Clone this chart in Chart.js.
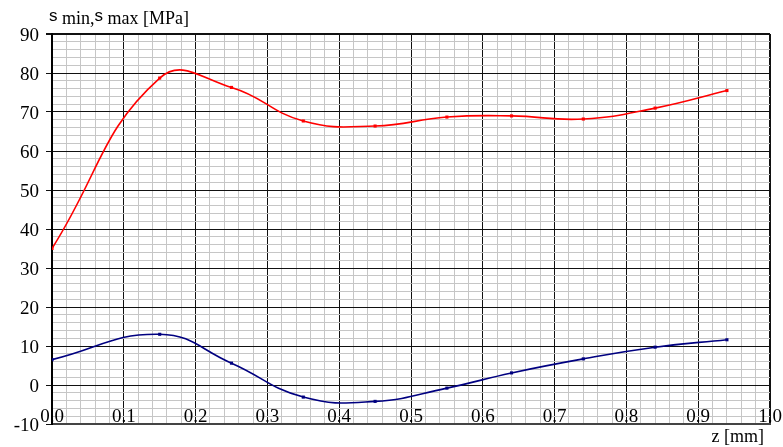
<!DOCTYPE html>
<html>
<head>
<meta charset="utf-8">
<script src="https://cdn.jsdelivr.net/npm/chart.js@4"></script>
<style>
  html, body { margin: 0; padding: 0; background: #fff; }
  #wrap { width: 783px; height: 447px; position: relative; }
</style>
</head>
<body>
<div id="wrap"><canvas id="c"></canvas></div>
<script>
// ---- data ----
const zValues   = [0, 0.15, 0.25, 0.35, 0.45, 0.55, 0.64, 0.74, 0.84, 0.94];
const sigmaMax  = [35.0, 78.7, 76.3, 67.7, 66.4, 68.7, 69.0, 68.2, 71.0, 75.5];
const sigmaMin  = [6.5, 13.0, 5.6, -3.1, -4.2, -0.8, 3.1, 6.7, 9.7, 11.6];
const xMajorLabels = ['0.0','0.1','0.2','0.3','0.4','0.5','0.6','0.7','0.8','0.9','1.0'];
const yMajorLabels = ['-10','0','10','20','30','40','50','60','70','80','90'];
const yTitleParts = [['s','sans'],[' min,','serif'],['s','sans'],[' max [MPa]','serif']];
const xTitle = 'z [mm]';

const serif = '"Liberation Serif", "Times New Roman", serif';
const sans = '"Liberation Sans", Arial, sans-serif';

const toPts = (xs, ys) => xs.map((x, i) => ({ x: x, y: ys[i] }));

const titlesPlugin = {
  id: 'titles',
  afterDraw(chart) {
    const ctx = chart.ctx;
    ctx.save();
    ctx.fillStyle = '#000';
    ctx.textBaseline = 'alphabetic';
    ctx.textAlign = 'left';
    let x = 49;
    for (const [t, f] of yTitleParts) {
      if (f === 'sans') {
        ctx.font = '17px ' + sans;
        ctx.fillText(t, x, 21);
      } else {
        ctx.font = '18px ' + serif;
        ctx.fillText(t, x, 24);
      }
      x += ctx.measureText(t).width;
    }
    ctx.font = '18px ' + serif;
    ctx.textAlign = 'right';
    ctx.fillText(xTitle, 764, 442);
    ctx.restore();
  }
};

const isMajor = (i) => i % 5 === 0;

new Chart(document.getElementById('c'), {
  type: 'line',
  data: {
    datasets: [
      {
        label: 'sigma max',
        data: toPts(zValues, sigmaMax),
        borderColor: '#ff0000',
        backgroundColor: '#ff0000',
        borderWidth: 1.6,
        pointStyle: 'rect',
        pointRadius: 2.2,
        pointBorderWidth: 0,
        tension: 0.45,
        fill: false
      },
      {
        label: 'sigma min',
        data: toPts(zValues, sigmaMin),
        borderColor: '#000080',
        backgroundColor: '#000080',
        borderWidth: 1.6,
        pointStyle: 'rect',
        pointRadius: 2.2,
        pointBorderWidth: 0,
        tension: 0.45,
        fill: false
      }
    ]
  },
  options: {
    responsive: true,
    maintainAspectRatio: false,
    devicePixelRatio: 1,
    animation: false,
    layout: { padding: { left: 0, right: 13, top: 34, bottom: 0 } },
    plugins: {
      legend: { display: false },
      tooltip: { enabled: false },
      title: { display: false }
    },
    scales: {
      x: {
        type: 'linear',
        min: 0,
        max: 1,
        afterFit(scale) { scale.height = 23; },
        ticks: {
          stepSize: 0.02,
          autoSkip: false,
          maxRotation: 0,
          mirror: true,
          padding: -4,
          color: '#000',
          font: { family: serif, size: 19 },
          callback: (v, i) => isMajor(i) ? xMajorLabels[i / 5] : ''
        },
        grid: {
          drawTicks: false,
          color: (c) => isMajor(c.index) ? '#111' : '#c6c6c6',
          lineWidth: (c) => (c.index === 50) ? 2 : 1
        },
        border: { display: true, color: '#444', width: 2 }
      },
      y: {
        type: 'linear',
        min: -10,
        max: 90,
        afterFit(scale) { scale.width = 52; },
        ticks: {
          stepSize: 2,
          autoSkip: false,
          padding: 7,
          color: '#000',
          font: { family: serif, size: 19, lineHeight: '5px' },
          callback: (v, i) => isMajor(i) ? ['', yMajorLabels[i / 5]] : ''
        },
        grid: {
          drawTicks: true,
          tickLength: 6,
          tickColor: (c) => isMajor(c.index) ? '#111' : 'rgba(0,0,0,0)',
          color: (c) => isMajor(c.index) ? '#111' : '#c6c6c6',
          lineWidth: (c) => (c.index === 50) ? 2 : 1
        },
        border: { display: true, color: '#000', width: 2 }
      }
    }
  },
  plugins: [titlesPlugin]
});
</script>
</body>
</html>
